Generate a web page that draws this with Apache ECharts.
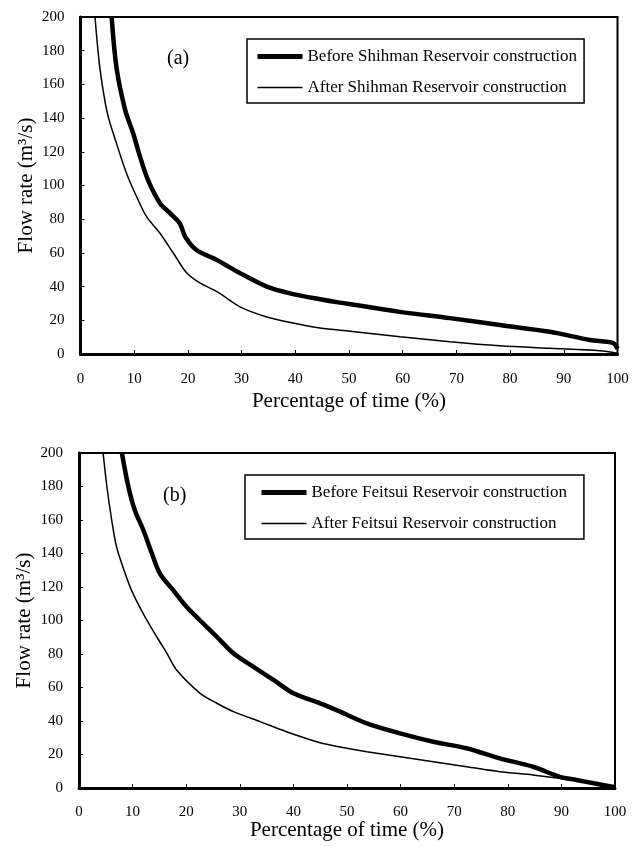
<!DOCTYPE html>
<html>
<head>
<meta charset="utf-8">
<script src="https://cdn.jsdelivr.net/npm/echarts@6/dist/echarts.min.js"></script>
<style>html,body{margin:0;padding:0;background:#fff;}#c{width:638px;height:846px;}</style>
</head>
<body>
<div id="c"></div>
<script>
// Panel (a) - Shihman
const aBeforeX = [5.8, 6.7, 8.3, 9.8, 11.1, 12.6, 14.8, 16.7, 18.5, 19.5, 21.6, 25.4, 29.7, 34.7, 39, 44.6, 48.3, 59.5, 68.8, 78.1, 87.4, 94.9, 99.2, 100];
const aBeforeY = [200, 170, 145, 131, 117, 103, 89.5, 83.5, 77.5, 69.6, 61.7, 55.8, 48, 40, 36, 32.5, 30.5, 25, 21.3, 17.2, 13.2, 8.3, 6.5, 3];
const aAfterX = [2.7, 3.6, 5.0, 6.7, 8.6, 10.5, 12.3, 14.8, 17.3, 19.8, 22.3, 25.4, 29.7, 34.7, 39.6, 44.6, 50.2, 59.5, 68.8, 78.1, 87.4, 96.7, 100];
const aAfterY = [200, 170, 143, 125, 107, 93, 81.5, 71.7, 59.8, 48, 42, 37, 28, 22, 18.4, 15.4, 13.5, 10.3, 7.3, 4.9, 3.4, 2, 0.5];
// Panel (b) - Feitsui
const bBeforeX = [8.0, 9.2, 10.4, 12.0, 13.6, 15.1, 17.6, 20.1, 22.6, 25.7, 28.8, 32.5, 36.3, 40, 45, 48.7, 53.7, 59.9, 66.1, 72.3, 78.5, 84.7, 89.7, 92.8, 96, 100];
const bBeforeY = [200, 180, 166, 154, 140, 128, 118, 108, 100, 90.3, 80.4, 72.4, 64.5, 56.5, 50.5, 45.6, 38.6, 32.6, 27.6, 23.7, 17.7, 12.7, 6.7, 4.8, 2.8, 0.5];
const bAfterX = [4.5, 5.2, 6.1, 7.0, 8.4, 9.8, 12, 14.5, 16.4, 18.2, 22.6, 25.7, 28.8, 33.8, 38.7, 45, 48.7, 53.7, 59.9, 66.1, 72.3, 78.5, 84.7, 89.7, 96, 100];
const bAfterY = [200, 180, 160, 144, 130, 118, 104, 90.3, 80.4, 70.4, 56.5, 50.6, 45.6, 39.6, 33.6, 27, 24.5, 21.7, 18.7, 15.7, 12.7, 9.7, 7.8, 5.8, 3.2, 0.8];

const namesA = ['Before Shihman Reservoir construction', 'After Shihman Reservoir construction'];
const namesB = ['Before Feitsui Reservoir construction', 'After Feitsui Reservoir construction'];
const panelLabels = ['(a)', '(b)'];
const xTitle = 'Percentage of time (%)';
const yTitle = 'Flow rate (m\u00B3/s)';

const FONT = "'Liberation Serif', 'DejaVu Serif', serif";
const pairs = (xs, ys) => xs.map((x, i) => [x, ys[i]]);

function xAxisCfg(gi, gap, margin) {
  return {
    gridIndex: gi, type: 'value', min: 0, max: 100, interval: 10,
    name: xTitle, nameLocation: 'middle', nameGap: gap, nameMoveOverlap: false,
    nameTextStyle: { fontFamily: FONT, fontSize: 21, color: '#000' },
    axisLine: { show: true, onZero: false, lineStyle: { color: '#000', width: 3 } },
    axisTick: { show: true, inside: true, length: 4, lineStyle: { color: '#000', width: 1 } },
    axisLabel: { fontFamily: FONT, fontSize: 15, color: '#000', margin: margin },
    splitLine: { show: false }
  };
}
function yAxisCfg(gi) {
  return {
    gridIndex: gi, type: 'value', min: 0, max: 200, interval: 20,
    name: yTitle, nameLocation: 'middle', nameGap: 44, nameRotate: 90, nameMoveOverlap: false,
    nameTextStyle: { fontFamily: FONT, fontSize: 21, color: '#000' },
    axisLine: { show: true, onZero: false, lineStyle: { color: '#000', width: 3 } },
    axisTick: { show: true, inside: true, length: 4, lineStyle: { color: '#000', width: 1 } },
    axisLabel: { fontFamily: FONT, fontSize: 15, color: '#000', margin: 16 },
    splitLine: { show: false }
  };
}
function lineSeries(name, gi, data, width) {
  return {
    name: name, type: 'line', xAxisIndex: gi, yAxisIndex: gi, data: data,
    showSymbol: false, symbol: 'none', smooth: 0.3,
    lineStyle: { color: '#000', width: width }, itemStyle: { color: '#000' }, clip: true, z: 3
  };
}
function legendCfg(names, left, top, pad) {
  return {
    orient: 'vertical', left: left, top: top,
    data: [
      { name: names[0], lineStyle: { width: 5, color: '#000' }, itemStyle: { opacity: 0 } },
      { name: names[1], lineStyle: { width: 1.5, color: '#000' }, itemStyle: { opacity: 0 } }
    ],
    itemWidth: 45, itemHeight: 14, itemGap: 14, padding: pad,
    borderColor: '#000', borderWidth: 1.5, backgroundColor: '#fff',
    textStyle: { fontFamily: FONT, fontSize: 17, color: '#000' },
    selectedMode: false
  };
}

const chart = echarts.init(document.getElementById('c'), null, { renderer: 'canvas' });
const option = {
  backgroundColor: '#fff',
  animation: false,
  grid: [
    { left: 80.5, top: 17, width: 537, height: 337, show: true, borderColor: '#000', borderWidth: 2, backgroundColor: 'transparent', containLabel: false },
    { left: 79, top: 453, width: 536, height: 335, show: true, borderColor: '#000', borderWidth: 2, backgroundColor: 'transparent', containLabel: false }
  ],
  xAxis: [xAxisCfg(0, 37, 18), xAxisCfg(1, 32, 17)],
  yAxis: [yAxisCfg(0), yAxisCfg(1)],
  legend: [
    legendCfg(namesA, 247, 39, [9, 7, 7, 8]),
    legendCfg(namesB, 245, 475, [9, 17, 7, 14])
  ],
  graphic: [
    { type: 'text', left: 167, top: 49, style: { text: panelLabels[0], font: "20px 'Liberation Serif'", fill: '#000' } },
    { type: 'text', left: 163, top: 486, style: { text: panelLabels[1], font: "20px 'Liberation Serif'", fill: '#000' } }
  ],
  series: [
    lineSeries(namesA[0], 0, pairs(aBeforeX, aBeforeY), 4.5),
    lineSeries(namesA[1], 0, pairs(aAfterX, aAfterY), 1.5),
    lineSeries(namesB[0], 1, pairs(bBeforeX, bBeforeY), 4.5),
    lineSeries(namesB[1], 1, pairs(bAfterX, bAfterY), 1.5)
  ]
};
chart.setOption(option);
</script>
</body>
</html>
